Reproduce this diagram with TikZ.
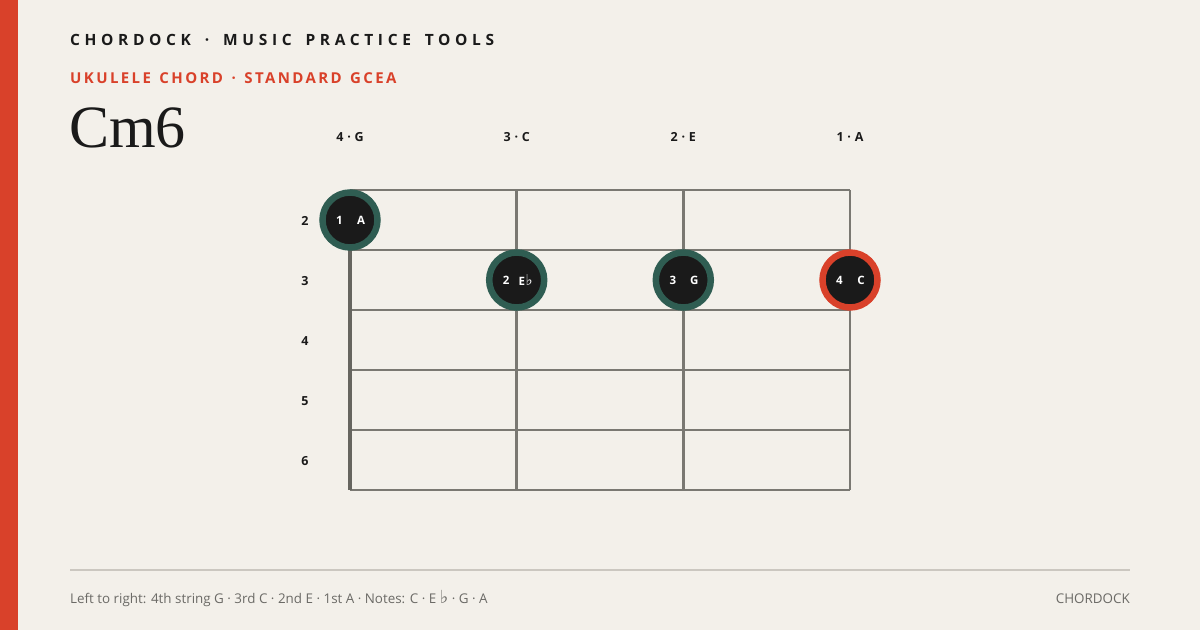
\documentclass[tikz,border=0pt]{standalone}
\usepackage{fontspec}
\setmainfont{Open Sans}
\newfontfamily\titleserif{Liberation Serif}
\newfontfamily\symfont{DejaVu Sans}
\newfontfamily\hdrfont[LetterSpace=30,WordSpace=1.6]{Open Sans}
\newfontfamily\subfont[LetterSpace=16,WordSpace=1.35]{Open Sans}
\definecolor{bg}{HTML}{F3F0EA}
\definecolor{accent}{HTML}{D9412A}
\definecolor{ink}{HTML}{1A1A1A}
\definecolor{gridc}{HTML}{7A7872}
\definecolor{gridd}{HTML}{66655F}
\definecolor{ringg}{HTML}{2F5D52}
\definecolor{muted}{HTML}{6B6A66}
\definecolor{rule}{HTML}{CBC7C0}
\newcommand{\flatsym}{{\symfont\char"266D}}
\tikzset{
  fretline/.style={draw=gridc, line width=2.6pt},
  nutstring/.style={draw=gridd, line width=3.6pt},
  dotg/.style={circle, fill=ink, draw=ringg, line width=6.5pt, minimum size=55pt, inner sep=0pt},
  dotr/.style={circle, fill=ink, draw=accent, line width=6.5pt, minimum size=55pt, inner sep=0pt},
  dottxt/.style={text=white, font=\fontsize{11.5}{13}\selectfont\bfseries, inner sep=0pt},
  strlbl/.style={text=ink, font=\fontsize{12.5}{14}\selectfont\bfseries\addfontfeatures{LetterSpace=4}, inner sep=0pt},
  fretlbl/.style={text=ink, font=\fontsize{12.5}{14}\selectfont\bfseries, inner sep=0pt},
}
\begin{document}
\begin{tikzpicture}[x=1pt,y=-1pt]
\fill[bg] (0,0) rectangle (1200,630);
\useasboundingbox (0,0) rectangle (1200,630);
\fill[accent] (0,0) rectangle (18,630);
% header
\node[anchor=base west, inner sep=0pt, text=ink, font=\hdrfont\bfseries\fontsize{15.5}{18}\selectfont] (hdr) at (70,45) {CHORDOCK · MUSIC PRACTICE TOOLS};
\node[anchor=base west, inner sep=0pt, text=accent, font=\subfont\bfseries\fontsize{15}{17}\selectfont] (sub) at (70,83.5) {UKULELE CHORD · STANDARD GCEA};
\node[anchor=base west, inner sep=0pt, text=ink, font=\fontsize{60}{64}\selectfont\titleserif] (title) at (69,147) {Cm6};
% string labels
\node[strlbl] (s4) at (350,137) {4 · G};
\node[strlbl] (s3) at (516.7,137) {3 · C};
\node[strlbl] (s2) at (683.3,137) {2 · E};
\node[strlbl] (s1) at (850,137) {1 · A};
% grid coordinates
\coordinate (a0) at (350,190); \coordinate (a5) at (350,490);
\coordinate (b0) at (516.7,190); \coordinate (b5) at (516.7,490);
\coordinate (c0) at (683.3,190); \coordinate (c5) at (683.3,490);
\coordinate (d0) at (850,190); \coordinate (d5) at (850,490);
\foreach \y/\n in {190/0,250/1,310/2,370/3,430/4,490/5} {
  \coordinate (l\n) at (350,\y); \coordinate (r\n) at (850,\y);
  \draw[fretline] (l\n) -- (r\n);
}
\draw[fretline] (b0) -- (b5);
\draw[fretline] (c0) -- (c5);
\draw[fretline] (d0) -- (d5);
\draw[nutstring] (a0) -- (a5);
% fret numbers
\node[fretlbl] (f2) at (305,221) {2};
\node[fretlbl] (f3) at (305,281) {3};
\node[fretlbl] (f4) at (305,341) {4};
\node[fretlbl] (f5) at (305,401) {5};
\node[fretlbl] (f6) at (305,461) {6};
% dots
\node[dotg] (d1) at (350,220) {};
\node[dotg] (d2) at (516.7,280) {};
\node[dotg] (d3) at (683.3,280) {};
\node[dotr] (d4) at (850,280) {};
\node[dottxt] (n1) at ([xshift=-10.5pt]d1.center) {1};
\node[dottxt] (m1) at ([xshift=11pt]d1.center) {A};
\node[dottxt] (n2) at ([xshift=-10.5pt]d2.center) {2};
\node[dottxt, anchor=west] (m2) at ([xshift=1.8pt]d2.center) {E\hspace{0.5pt}{\fontsize{15}{15}\selectfont\mdseries\flatsym}};
\node[dottxt] (n3) at ([xshift=-10.5pt]d3.center) {3};
\node[dottxt] (m3) at ([xshift=11pt]d3.center) {G};
\node[dottxt] (n4) at ([xshift=-10.5pt]d4.center) {4};
\node[dottxt] (m4) at ([xshift=11pt]d4.center) {C};
% footer
\coordinate (fl) at (70,570); \coordinate (fr) at (1130,570);
\draw[draw=rule, line width=1.8pt] (fl) -- (fr);
\node[anchor=base west, inner sep=0pt, text=muted, font=\fontsize{13.4}{15}\selectfont] (foot) at (70,603) {Left to right: 4th string G · 3rd C · 2nd E · 1st A · Notes: C · E {\fontsize{18}{18}\selectfont\flatsym}\ · G · A};
\node[anchor=base east, inner sep=0pt, text=muted, font=\fontsize{13.4}{15}\selectfont] (brand) at (1130,603) {CHORDOCK};
\end{tikzpicture}
\end{document}
